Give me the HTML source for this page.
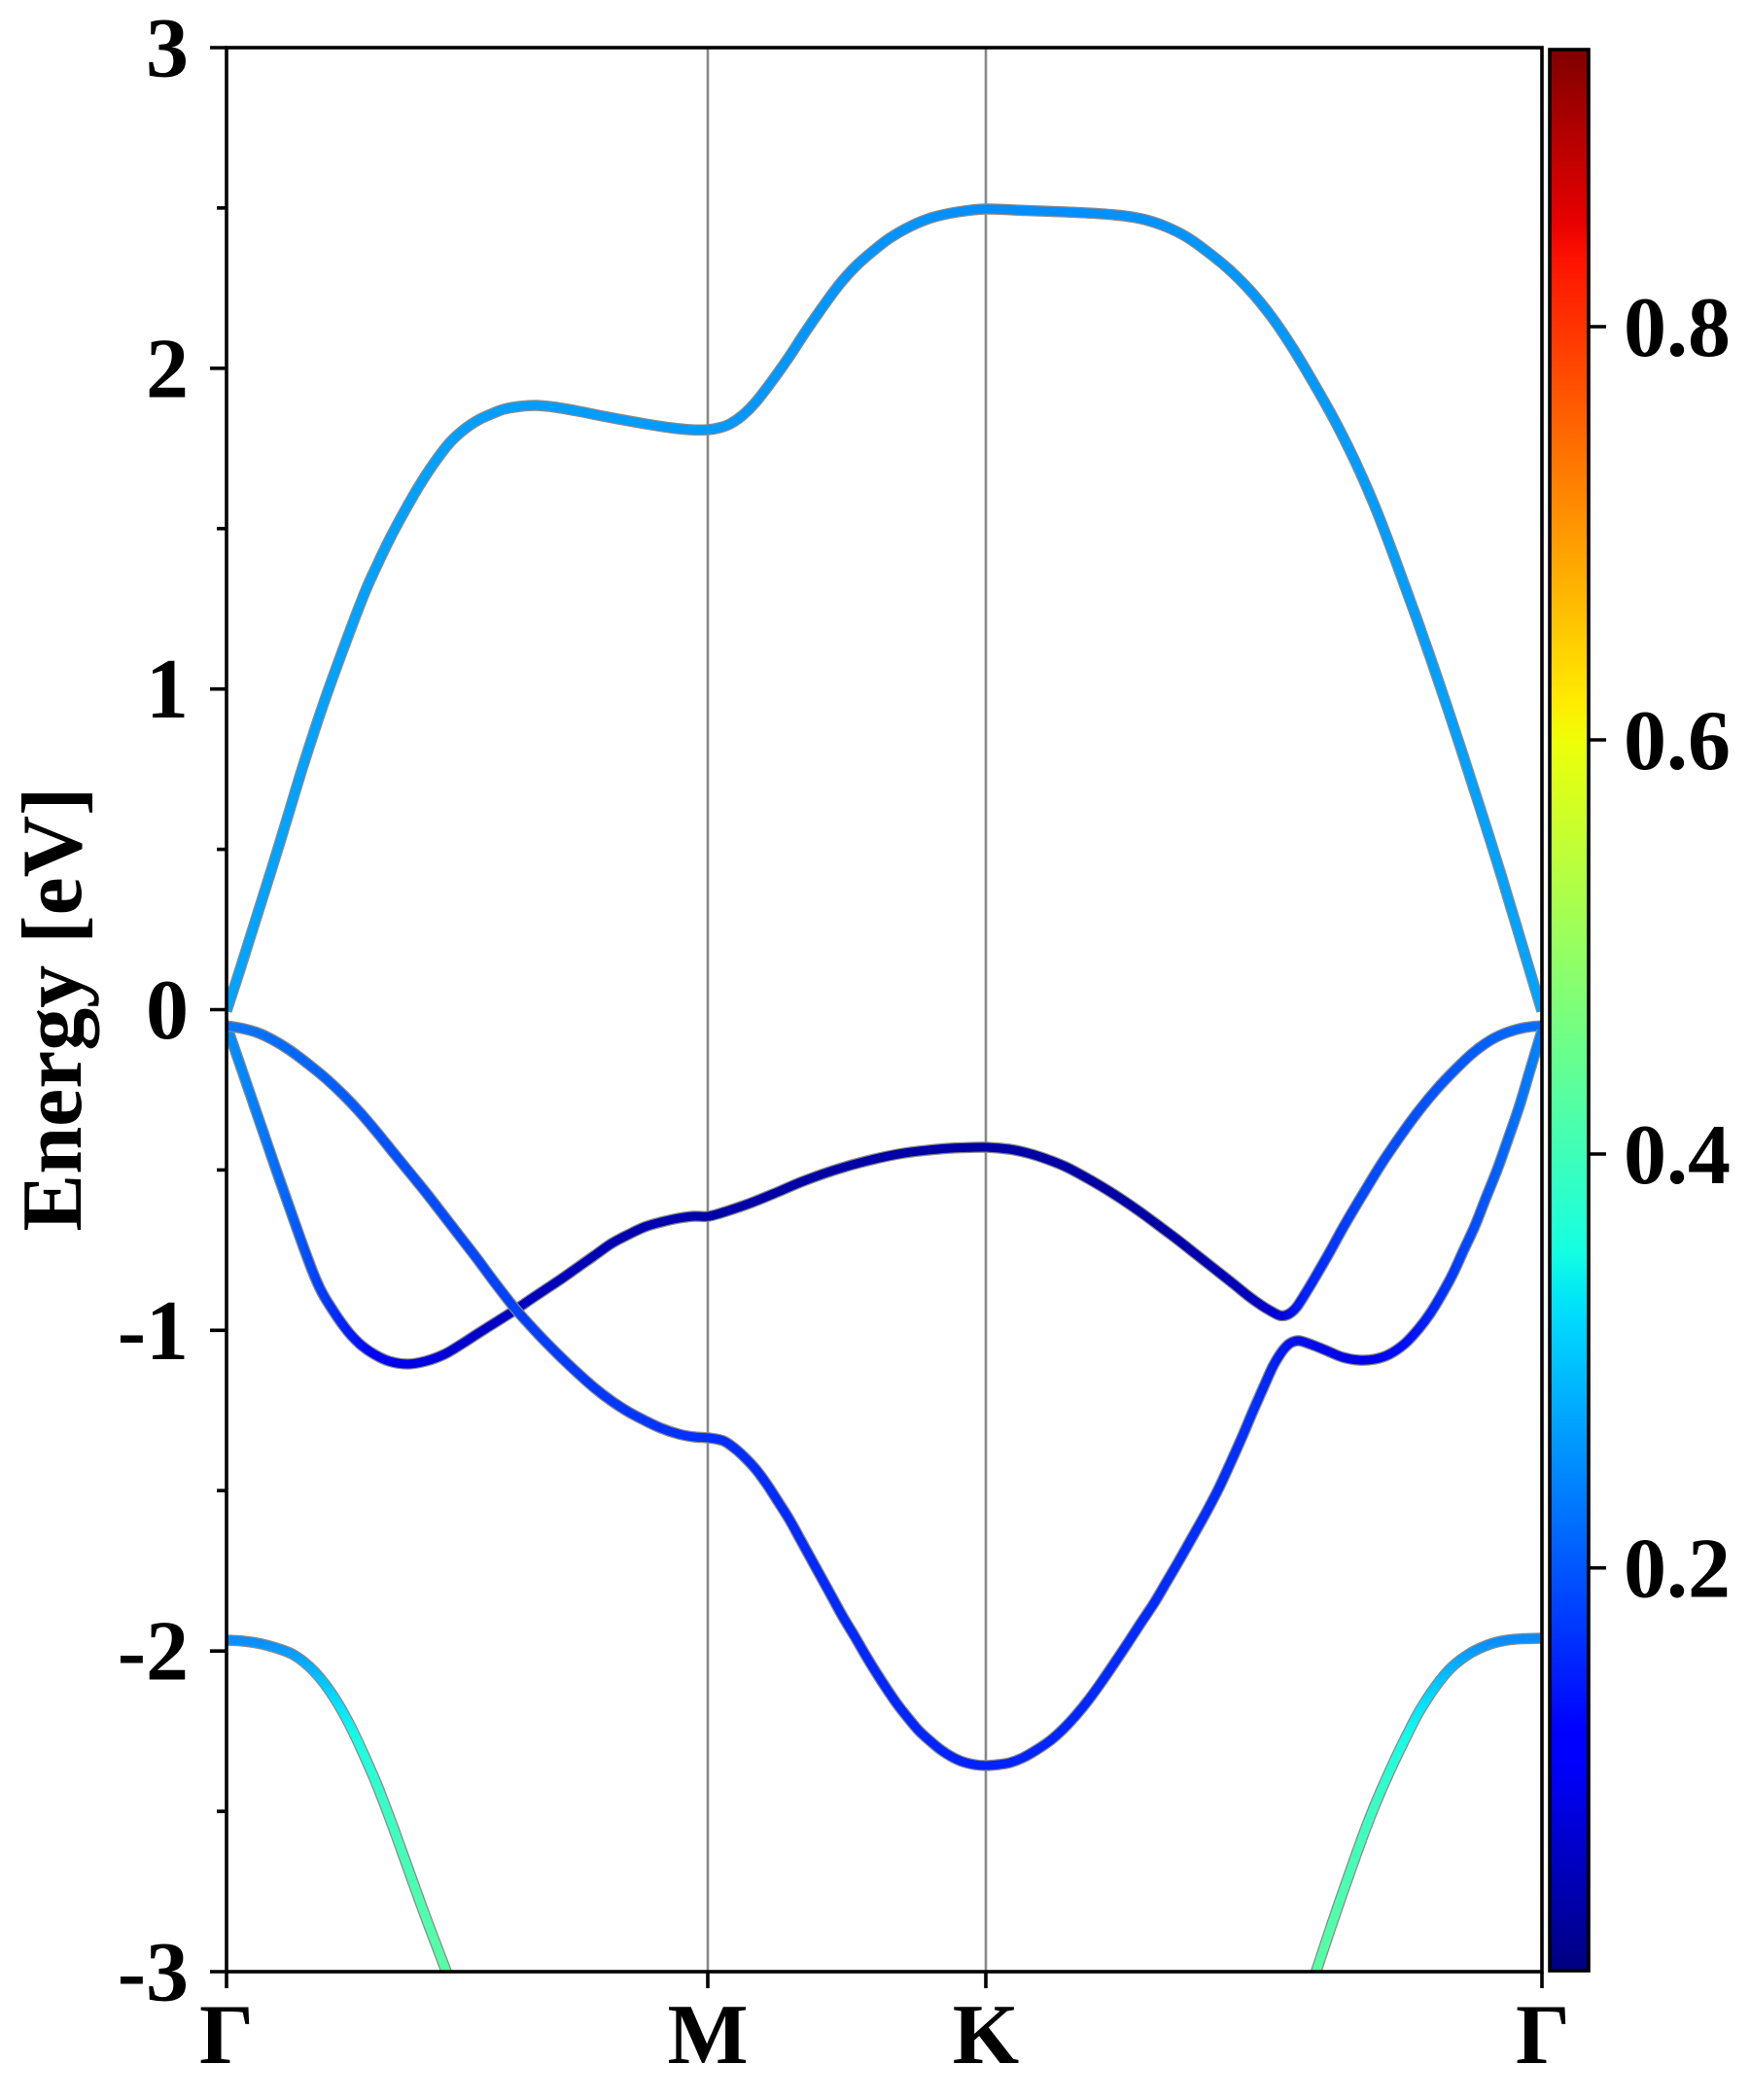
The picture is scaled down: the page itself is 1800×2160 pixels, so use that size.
<!DOCTYPE html>
<html>
<head>
<meta charset="utf-8">
<style>
html,body{margin:0;padding:0;background:#fff;}
svg{display:block;}
text{font-family:"Liberation Serif","DejaVu Serif",serif;font-weight:bold;font-size:88px;fill:#000;}
.u{fill:none;stroke:#8a8a8a;stroke-width:11.5;stroke-linejoin:round;stroke-linecap:butt;}
.c{fill:none;stroke-width:9;stroke-linejoin:round;stroke-linecap:butt;}
</style>
</head>
<body>
<svg id="chart" width="1800" height="2160" viewBox="0 0 1800 2160" xmlns="http://www.w3.org/2000/svg">
<defs>
<clipPath id="clip"><rect x="233" y="49" width="1353" height="1979"/></clipPath>
<linearGradient id="jet" x1="0" y1="0" x2="0" y2="1">
<stop offset="0" stop-color="#800000"/>
<stop offset="0.09" stop-color="#e80000"/>
<stop offset="0.11" stop-color="#ff1300"/>
<stop offset="0.34" stop-color="#ffec00"/>
<stop offset="0.36" stop-color="#eeff08"/>
<stop offset="0.625" stop-color="#15ffe2"/>
<stop offset="0.65" stop-color="#00e6f7"/>
<stop offset="0.66" stop-color="#00dbff"/>
<stop offset="0.875" stop-color="#0000ff"/>
<stop offset="0.89" stop-color="#0000ff"/>
<stop offset="1" stop-color="#000080"/>
</linearGradient>
<linearGradient id="gA" gradientUnits="userSpaceOnUse" x1="233" y1="0" x2="1586" y2="0">
<stop offset="0" stop-color="#00a4ff"/>
<stop offset="0.3" stop-color="#009cff"/>
<stop offset="0.5" stop-color="#0094ff"/>
<stop offset="0.6" stop-color="#008cff"/>
<stop offset="0.75" stop-color="#0096ff"/>
<stop offset="1" stop-color="#00a4ff"/>
</linearGradient>
<linearGradient id="gB" gradientUnits="userSpaceOnUse" x1="233" y1="0" x2="1586" y2="0">
<stop offset="0" stop-color="#0a78ff"/>
<stop offset="0.0495" stop-color="#0068ff"/>
<stop offset="0.123" stop-color="#0052ff"/>
<stop offset="0.219" stop-color="#0040ff"/>
<stop offset="0.367" stop-color="#002eff"/>
<stop offset="0.577" stop-color="#0022ff"/>
<stop offset="0.781" stop-color="#0030ff"/>
<stop offset="0.811" stop-color="#0010f0"/>
<stop offset="0.863" stop-color="#0000e6"/>
<stop offset="0.9" stop-color="#0010ff"/>
<stop offset="0.936" stop-color="#0040ff"/>
<stop offset="0.973" stop-color="#0068ff"/>
<stop offset="1" stop-color="#0085ff"/>
</linearGradient>
<linearGradient id="gC" gradientUnits="userSpaceOnUse" x1="233" y1="0" x2="1586" y2="0">
<stop offset="0" stop-color="#0090ff"/>
<stop offset="0.021" stop-color="#0080ff"/>
<stop offset="0.05" stop-color="#0060ff"/>
<stop offset="0.079" stop-color="#0030ff"/>
<stop offset="0.112" stop-color="#0000ff"/>
<stop offset="0.138" stop-color="#0000e8"/>
<stop offset="0.183" stop-color="#0000d0"/>
<stop offset="0.219" stop-color="#0000c0"/>
<stop offset="0.367" stop-color="#0000a8"/>
<stop offset="0.577" stop-color="#0000a4"/>
<stop offset="0.715" stop-color="#0000a8"/>
<stop offset="0.781" stop-color="#0000c0"/>
<stop offset="0.802" stop-color="#0000d8"/>
<stop offset="0.818" stop-color="#0020ff"/>
<stop offset="0.863" stop-color="#0048ff"/>
<stop offset="0.936" stop-color="#0058ff"/>
<stop offset="1" stop-color="#0070ff"/>
</linearGradient>
<linearGradient id="gE" gradientUnits="userSpaceOnUse" x1="0" y1="1687" x2="0" y2="2028">
<stop offset="0" stop-color="#0a8cff"/>
<stop offset="0.097" stop-color="#00b8ff"/>
<stop offset="0.185" stop-color="#00e0ff"/>
<stop offset="0.302" stop-color="#18ffe6"/>
<stop offset="0.478" stop-color="#38ffc6"/>
<stop offset="0.771" stop-color="#4cffb0"/>
<stop offset="1" stop-color="#58ffa2"/>
</linearGradient>
</defs>

<rect x="0" y="0" width="1800" height="2160" fill="#fff"/>

<line x1="728" y1="49" x2="728" y2="2028" stroke="#888" stroke-width="2.6"/>
<line x1="1014" y1="49" x2="1014" y2="2028" stroke="#888" stroke-width="2.6"/>

<g id="bands" clip-path="url(#clip)">
<polyline class="u" points="233,1687 250,1688 267,1690.5 284,1695 300,1701 312,1709 323,1719 334,1732 345,1748 356,1767 367,1789 377,1811 387,1834 396,1857 405,1881 414,1906 423,1931 432,1956 442,1983 450,2004 461,2033"/>
<polyline class="c" stroke="url(#gE)" points="233,1687 250,1688 267,1690.5 284,1695 300,1701 312,1709 323,1719 334,1732 345,1748 356,1767 367,1789 377,1811 387,1834 396,1857 405,1881 414,1906 423,1931 432,1956 442,1983 450,2004 461,2033"/>
<polyline class="u" points="1586,1685 1567,1685.5 1550,1687 1533,1691 1513,1700 1493,1715 1477,1734 1460,1760 1448,1783 1433,1814 1417,1850 1405,1880 1393,1913 1381,1947 1370,1979 1353,2030"/>
<polyline class="c" stroke="url(#gE)" points="1586,1685 1567,1685.5 1550,1687 1533,1691 1513,1700 1493,1715 1477,1734 1460,1760 1448,1783 1433,1814 1417,1850 1405,1880 1393,1913 1381,1947 1370,1979 1353,2030"/>

<polyline class="u" points="233,1040 246,1000 263,946 280,892 295,843 312,787 332,726 354,665 375,610 388,581 401,554 416,526 431,500 446,477 462,456 477,442 492,432 505,426 518,421 535,418 552,417 572,419 595,423 620,428 647,433 670,437 690,440 710,442 728,442 740,440 751,436 764,427 777,414 794,392 811,368 828,342 846,316 863,293 880,274 897,259 915,245 936,233 958,224 985,218 1014,215 1055,216.5 1096,218 1127,219.5 1156,222 1178,226 1199,233 1221,244 1242,259 1264,277 1286,299 1308,326 1329,357 1350,392 1372,431 1394,475 1415,523 1436,578 1458,638.5 1480,702 1501,765 1522,830 1544,900 1562,960 1579,1017 1586,1040"/>
<polyline class="c" stroke="url(#gA)" points="233,1040 246,1000 263,946 280,892 295,843 312,787 332,726 354,665 375,610 388,581 401,554 416,526 431,500 446,477 462,456 477,442 492,432 505,426 518,421 535,418 552,417 572,419 595,423 620,428 647,433 670,437 690,440 710,442 728,442 740,440 751,436 764,427 777,414 794,392 811,368 828,342 846,316 863,293 880,274 897,259 915,245 936,233 958,224 985,218 1014,215 1055,216.5 1096,218 1127,219.5 1156,222 1178,226 1199,233 1221,244 1242,259 1264,277 1286,299 1308,326 1329,357 1350,392 1372,431 1394,475 1415,523 1436,578 1458,638.5 1480,702 1501,765 1522,830 1544,900 1562,960 1579,1017 1586,1040"/>

<polyline class="u" points="233,1055 240,1075 250,1104 262,1139 273,1171 285,1206 297,1240 309,1274 322,1309 331,1329 340,1344 350,1359 360,1372 372,1384 385,1393 400,1400 419,1403 438,1400 457,1393 474,1383 491,1372 510,1360 529,1348 545,1337 560,1327 578,1315 595,1303 612,1291 629,1279 646,1270 663,1262 680,1257 698,1253 714,1251 729,1251 750,1245 773,1237 800,1226 826,1215 860,1203 896,1193 930,1186 965,1182 990,1180.5 1014,1180 1038,1182 1057,1186 1076,1192 1096,1200 1115,1210 1134,1221 1153,1233 1172,1246 1191,1260 1211,1275 1230,1290 1249,1305 1268,1320 1284,1333 1298,1343 1308,1349 1316,1353 1322,1353 1328,1350 1334,1344 1343,1330 1352,1315 1367,1289 1383,1260 1402,1228 1421,1197 1440,1169 1459,1143 1478,1120 1497,1100 1515,1083 1533,1070 1550,1062 1568,1057 1586,1055"/>
<polyline class="c" stroke="url(#gC)" points="233,1055 240,1075 250,1104 262,1139 273,1171 285,1206 297,1240 309,1274 322,1309 331,1329 340,1344 350,1359 360,1372 372,1384 385,1393 400,1400 419,1403 438,1400 457,1393 474,1383 491,1372 510,1360 529,1348 545,1337 560,1327 578,1315 595,1303 612,1291 629,1279 646,1270 663,1262 680,1257 698,1253 714,1251 729,1251 750,1245 773,1237 800,1226 826,1215 860,1203 896,1193 930,1186 965,1182 990,1180.5 1014,1180 1038,1182 1057,1186 1076,1192 1096,1200 1115,1210 1134,1221 1153,1233 1172,1246 1191,1260 1211,1275 1230,1290 1249,1305 1268,1320 1284,1333 1298,1343 1308,1349 1316,1353 1322,1353 1328,1350 1334,1344 1343,1330 1352,1315 1367,1289 1383,1260 1402,1228 1421,1197 1440,1169 1459,1143 1478,1120 1497,1100 1515,1083 1533,1070 1550,1062 1568,1057 1586,1055"/>

<polyline class="u" points="233,1055 250,1058 267,1063 285,1072 302,1083 319,1096 336,1110 354,1127 371,1145 388,1165 405,1186 423,1208 440,1229 457,1251 474,1273 491,1295 508,1318 529,1345 545,1363 560,1379 578,1397 595,1413 612,1428 629,1441 646,1452 663,1461 680,1469 698,1475 714,1478 729,1479 744,1482 756,1490 767,1500 778,1512 789,1527 800,1544 812,1563 823,1583 834,1603 845,1623 856,1643 867,1663 879,1683 890,1702 901,1720 912,1737 923,1753 934,1767 945,1780 957,1791 968,1800 979,1807 990,1812 1002,1815 1014,1816 1027,1815 1039,1813 1052,1808 1066,1800 1080,1790.5 1093,1779 1107,1764 1120,1748 1133,1730 1146,1711 1160,1690 1173,1670 1187,1649 1200,1627 1214,1603 1227,1580 1241,1555 1254,1530 1266,1504 1278,1477 1289,1451 1300,1426 1309,1406 1316,1394 1322,1386 1328,1381 1336,1379 1349,1383 1364,1389 1381,1396 1398,1399 1414,1398 1429,1393 1445,1382 1459,1367 1471,1351 1482,1333 1494,1311 1505,1287 1517,1261 1528,1233 1540,1203 1551,1172 1563,1137 1574,1100 1586,1060"/>
<polyline class="c" stroke="url(#gB)" points="233,1055 250,1058 267,1063 285,1072 302,1083 319,1096 336,1110 354,1127 371,1145 388,1165 405,1186 423,1208 440,1229 457,1251 474,1273 491,1295 508,1318 529,1345 545,1363 560,1379 578,1397 595,1413 612,1428 629,1441 646,1452 663,1461 680,1469 698,1475 714,1478 729,1479 744,1482 756,1490 767,1500 778,1512 789,1527 800,1544 812,1563 823,1583 834,1603 845,1623 856,1643 867,1663 879,1683 890,1702 901,1720 912,1737 923,1753 934,1767 945,1780 957,1791 968,1800 979,1807 990,1812 1002,1815 1014,1816 1027,1815 1039,1813 1052,1808 1066,1800 1080,1790.5 1093,1779 1107,1764 1120,1748 1133,1730 1146,1711 1160,1690 1173,1670 1187,1649 1200,1627 1214,1603 1227,1580 1241,1555 1254,1530 1266,1504 1278,1477 1289,1451 1300,1426 1309,1406 1316,1394 1322,1386 1328,1381 1336,1379 1349,1383 1364,1389 1381,1396 1398,1399 1414,1398 1429,1393 1445,1382 1459,1367 1471,1351 1482,1333 1494,1311 1505,1287 1517,1261 1528,1233 1540,1203 1551,1172 1563,1137 1574,1100 1586,1060"/>
</g>

<rect x="233" y="49" width="1353" height="1979" fill="none" stroke="#000" stroke-width="3.6"/>

<g stroke="#000" stroke-width="3.6">
<line x1="216" y1="49" x2="233" y2="49"/>
<line x1="216" y1="378.8" x2="233" y2="378.8"/>
<line x1="216" y1="708.7" x2="233" y2="708.7"/>
<line x1="216" y1="1038.5" x2="233" y2="1038.5"/>
<line x1="216" y1="1368.3" x2="233" y2="1368.3"/>
<line x1="216" y1="1698.2" x2="233" y2="1698.2"/>
<line x1="216" y1="2028" x2="233" y2="2028"/>
<line x1="223" y1="213.9" x2="233" y2="213.9"/>
<line x1="223" y1="543.7" x2="233" y2="543.7"/>
<line x1="223" y1="873.6" x2="233" y2="873.6"/>
<line x1="223" y1="1203.4" x2="233" y2="1203.4"/>
<line x1="223" y1="1533.2" x2="233" y2="1533.2"/>
<line x1="223" y1="1863.1" x2="233" y2="1863.1"/>
<line x1="233" y1="2028" x2="233" y2="2045"/>
<line x1="728" y1="2028" x2="728" y2="2045"/>
<line x1="1014" y1="2028" x2="1014" y2="2045"/>
<line x1="1586" y1="2028" x2="1586" y2="2045"/>
</g>

<g text-anchor="end">
<text x="194" y="78.5">3</text>
<text x="194" y="408.3">2</text>
<text x="194" y="738.2">1</text>
<text x="194" y="1068">0</text>
<text x="194" y="1397.8">-1</text>
<text x="194" y="1727.7">-2</text>
<text x="194" y="2057.5">-3</text>
</g>

<g text-anchor="middle">
<text x="233" y="2122">Γ</text>
<text x="728" y="2122">M</text>
<text x="1014" y="2122">K</text>
<text x="1587" y="2122">Γ</text>
</g>

<text transform="translate(83,1038) rotate(-90)" text-anchor="middle">Energy [eV]</text>

<rect x="1594" y="51" width="40" height="1976" fill="url(#jet)"/>
<rect x="1594" y="51" width="40" height="1976" fill="none" stroke="#000" stroke-width="3.6"/>
<g stroke="#000" stroke-width="3.6">
<line x1="1635" y1="336" x2="1652" y2="336"/>
<line x1="1635" y1="761" x2="1652" y2="761"/>
<line x1="1635" y1="1187" x2="1652" y2="1187"/>
<line x1="1635" y1="1612.7" x2="1652" y2="1612.7"/>
</g>
<g text-anchor="start">
<text x="1670" y="366">0.8</text>
<text x="1670" y="791">0.6</text>
<text x="1670" y="1217">0.4</text>
<text x="1670" y="1642.5">0.2</text>
</g>
</svg>
<script>
(function(){
  try{
    var NS="http://www.w3.org/2000/svg";
    var g=document.getElementById("bands");
    var pls=Array.prototype.slice.call(g.getElementsByTagName("polyline"));
    pls.forEach(function(pl){
      var raw=pl.getAttribute("points").trim().split(/\s+/);
      var p=raw.map(function(s){var a=s.split(",");return [parseFloat(a[0]),parseFloat(a[1])];});
      if(p.length<3)return;
      var d="M"+p[0][0]+","+p[0][1];
      for(var i=0;i<p.length-1;i++){
        var p0=p[i>0?i-1:0],p1=p[i],p2=p[i+1],p3=p[i+2<p.length?i+2:p.length-1];
        var c1x=p1[0]+(p2[0]-p0[0])/6,c1y=p1[1]+(p2[1]-p0[1])/6;
        var c2x=p2[0]-(p3[0]-p1[0])/6,c2y=p2[1]-(p3[1]-p1[1])/6;
        d+=" C"+c1x.toFixed(2)+","+c1y.toFixed(2)+" "+c2x.toFixed(2)+","+c2y.toFixed(2)+" "+p2[0]+","+p2[1];
      }
      var path=document.createElementNS(NS,"path");
      path.setAttribute("d",d);
      path.setAttribute("class",pl.getAttribute("class"));
      if(pl.getAttribute("stroke"))path.setAttribute("stroke",pl.getAttribute("stroke"));
      g.insertBefore(path,pl);
      g.removeChild(pl);
    });
  }catch(e){}
})();
</script>
</body>
</html>
